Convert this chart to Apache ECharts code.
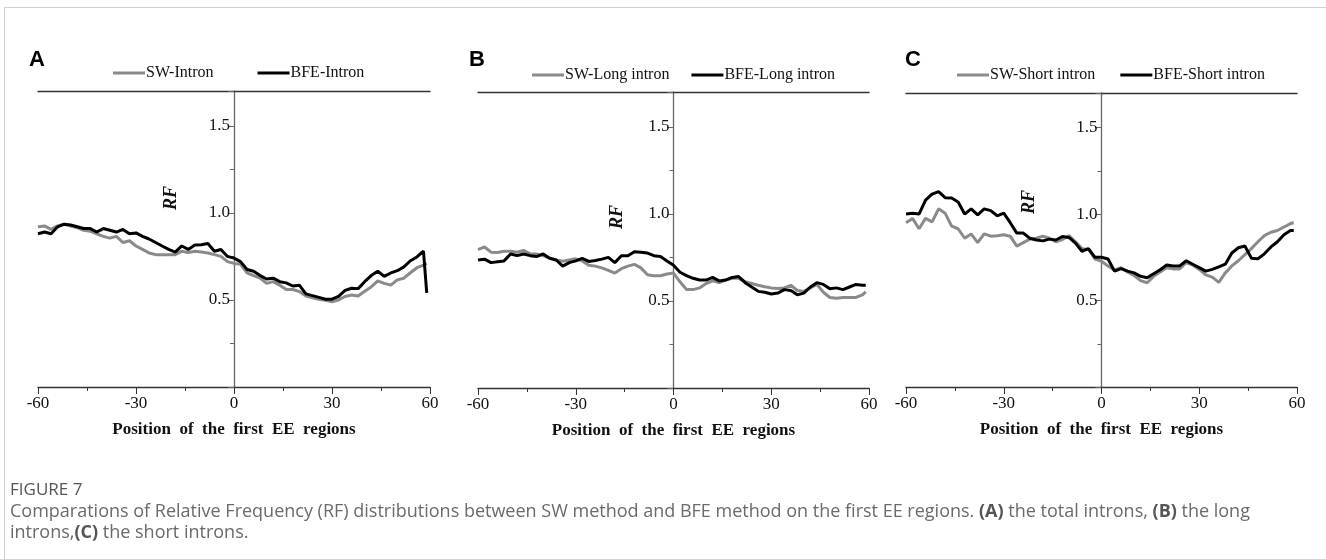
<!DOCTYPE html>
<html>
<head>
<meta charset="utf-8">
<script src="https://cdn.jsdelivr.net/npm/echarts@6/dist/echarts.min.js"></script>
<style>
  html, body { margin: 0; padding: 0; background: #fff; }
  #main { width: 1326px; height: 559px; }
</style>
</head>
<body>
<div id="main"></div>
<script>
// positions along the first EE region
var positions = [-60,-58,-56,-54,-52,-50,-48,-46,-44,-42,-40,-38,-36,-34,-32,-30,-28,-26,-24,-22,-20,-18,-16,-14,-12,-10,-8,-6,-4,-2,
  0,2,4,6,8,10,12,14,16,18,20,22,24,26,28,30,32,34,36,38,40,42,44,46,48,50,52,54,56,58,59];

// A: total introns
var swIntron = [0.92,0.925,0.905,0.925,0.935,0.925,0.915,0.90,0.895,0.88,0.865,0.855,0.865,0.83,0.84,0.81,0.79,0.77,0.76,0.76,0.76,0.76,0.78,0.773,0.78,0.775,0.77,0.76,0.75,0.72,
  0.71,0.705,0.656,0.64,0.625,0.595,0.605,0.585,0.56,0.56,0.548,0.523,0.513,0.504,0.498,0.49,0.50,0.52,0.528,0.523,0.55,0.575,0.609,0.595,0.585,0.615,0.625,0.656,0.685,0.70,0.71];
var bfeIntron = [0.88,0.89,0.88,0.92,0.935,0.93,0.92,0.91,0.91,0.89,0.91,0.90,0.89,0.905,0.88,0.885,0.865,0.85,0.83,0.81,0.79,0.775,0.81,0.79,0.815,0.817,0.824,0.78,0.79,0.75,
  0.74,0.72,0.675,0.665,0.64,0.62,0.625,0.605,0.598,0.58,0.585,0.535,0.525,0.515,0.504,0.504,0.52,0.555,0.567,0.565,0.605,0.64,0.665,0.635,0.655,0.668,0.69,0.725,0.747,0.78,0.54];

// B: long introns
var swLong = [0.795,0.81,0.78,0.778,0.785,0.785,0.78,0.79,0.77,0.77,0.76,0.745,0.735,0.728,0.735,0.742,0.73,0.705,0.70,0.69,0.675,0.66,0.685,0.70,0.71,0.69,0.65,0.645,0.645,0.655,
  0.66,0.61,0.565,0.565,0.575,0.60,0.615,0.605,0.62,0.63,0.63,0.61,0.60,0.59,0.582,0.575,0.572,0.575,0.59,0.56,0.555,0.575,0.595,0.55,0.52,0.515,0.52,0.52,0.52,0.535,0.553];
var bfeLong = [0.735,0.74,0.72,0.725,0.73,0.77,0.76,0.77,0.76,0.755,0.77,0.745,0.735,0.70,0.72,0.73,0.745,0.727,0.732,0.74,0.75,0.72,0.76,0.76,0.783,0.78,0.775,0.76,0.755,0.73,
  0.705,0.665,0.645,0.63,0.62,0.62,0.635,0.615,0.62,0.635,0.64,0.605,0.58,0.555,0.55,0.54,0.545,0.565,0.56,0.535,0.545,0.58,0.605,0.595,0.57,0.575,0.565,0.58,0.595,0.59,0.59];

// C: short introns
var swShort = [0.95,0.975,0.915,0.975,0.955,1.03,1.005,0.93,0.915,0.86,0.885,0.835,0.885,0.872,0.875,0.88,0.872,0.815,0.835,0.855,0.86,0.872,0.86,0.84,0.853,0.875,0.84,0.80,0.795,0.74,
  0.727,0.70,0.675,0.69,0.665,0.645,0.615,0.603,0.64,0.665,0.69,0.683,0.683,0.72,0.705,0.68,0.648,0.635,0.605,0.66,0.70,0.73,0.765,0.80,0.84,0.875,0.895,0.905,0.925,0.945,0.95];
var bfeShort = [1.0,1.005,1.0,1.08,1.115,1.13,1.095,1.093,1.07,1.0,1.03,0.995,1.03,1.02,0.99,1.005,0.95,0.89,0.89,0.86,0.85,0.845,0.855,0.85,0.87,0.865,0.832,0.785,0.80,0.75,
  0.75,0.74,0.67,0.685,0.67,0.66,0.64,0.632,0.655,0.678,0.705,0.70,0.70,0.73,0.71,0.69,0.67,0.68,0.695,0.71,0.775,0.805,0.815,0.745,0.742,0.77,0.81,0.84,0.88,0.905,0.905];

var panels = [
  { letter: 'A', sw: 'SW-Intron', bfe: 'BFE-Intron', swData: swIntron, bfeData: bfeIntron,
    grid: { left: 38, top: 91, width: 392, height: 296 }, legendLeft: 108, legendTop: 60, legendGap: 44, rf: [171, 198], letterX: 29 },
  { letter: 'B', sw: 'SW-Long intron', bfe: 'BFE-Long intron', swData: swLong, bfeData: bfeLong,
    grid: { left: 478, top: 92, width: 391, height: 296 }, legendLeft: 527, legendTop: 62, legendGap: 22, rf: [617, 217], letterX: 469 },
  { letter: 'C', sw: 'SW-Short intron', bfe: 'BFE-Short intron', swData: swShort, bfeData: bfeShort,
    grid: { left: 906, top: 93, width: 391, height: 294 }, legendLeft: 952, legendTop: 62, legendGap: 25, rf: [1029, 202], letterX: 905 }
];

var serif = "'Liberation Serif', 'Times New Roman', serif";
var axisColor = '#333';

function pairs(vals) {
  return positions.map(function (p, i) { return [p, vals[i]]; });
}

var option = {
  animation: false,
  backgroundColor: '#fff',
  grid: [], xAxis: [], yAxis: [], legend: [], series: [], graphic: []
};

panels.forEach(function (p, k) {
  option.grid.push(p.grid);
  option.xAxis.push({
    type: 'value', gridIndex: k, min: -60, max: 60, interval: 30,
    axisLine: { onZero: false, lineStyle: { color: axisColor, width: 1.3 } },
    axisTick: { length: 7, lineStyle: { color: axisColor } },
    minorTick: { show: true, splitNumber: 2, length: 4, lineStyle: { color: axisColor } },
    axisLabel: { color: '#111', fontFamily: serif, fontSize: 17, margin: 8 },
    splitLine: { show: false },
    name: 'Position  of  the  first  EE  regions',
    nameLocation: 'middle', nameGap: 34,
    nameTextStyle: { color: '#111', fontFamily: serif, fontSize: 17, fontWeight: 'bold' }
  });
  option.xAxis.push({
    type: 'value', gridIndex: k, position: 'top', min: -60, max: 60,
    axisLine: { onZero: false, lineStyle: { color: axisColor, width: 1.3 } },
    axisTick: { show: false }, axisLabel: { show: false }, splitLine: { show: false }
  });
  option.yAxis.push({
    type: 'value', gridIndex: k, min: 0, max: 1.7, interval: 0.5,
    position: 'left', offset: -p.grid.width / 2,
    axisLine: { onZero: false, lineStyle: { color: '#666', width: 1.3 } },
    axisTick: { length: 6, lineStyle: { color: '#666' } },
    minorTick: { show: true, splitNumber: 2, length: 4, lineStyle: { color: '#666' } },
    axisLabel: {
      color: '#111', fontFamily: serif, fontSize: 17, margin: 4,
      formatter: function (v) { return (v > 0 && Math.abs(v * 2 - Math.round(v * 2)) < 1e-6) ? v.toFixed(1) : ''; }
    },
    splitLine: { show: false }
  });
  option.legend.push({
    left: p.legendLeft, top: p.legendTop, itemGap: p.legendGap,
    itemWidth: 32, itemHeight: 3, icon: 'rect',
    data: [p.sw, p.bfe],
    textStyle: { color: '#111', fontFamily: serif, fontSize: 16, padding: [0, 0, 0, -4] }
  });
  option.series.push({
    name: p.sw, type: 'line', xAxisIndex: k * 2, yAxisIndex: k,
    data: pairs(p.swData), symbol: 'none',
    lineStyle: { color: '#8a8a8a', width: 3 }, itemStyle: { color: '#8a8a8a' }
  });
  option.series.push({
    name: p.bfe, type: 'line', xAxisIndex: k * 2, yAxisIndex: k,
    data: pairs(p.bfeData), symbol: 'none',
    lineStyle: { color: '#000', width: 3 }, itemStyle: { color: '#000' }
  });
  option.graphic.push({
    type: 'text', x: p.rf[0], y: p.rf[1], rotation: Math.PI / 2,
    style: { text: 'RF', fill: '#111', font: "italic bold 18px 'Liberation Serif', serif", align: 'center', verticalAlign: 'middle' }
  });
  option.graphic.push({
    type: 'text', x: p.letterX, y: 60,
    style: { text: p.letter, fill: '#000', font: "bold 22px 'Liberation Sans', Arial, sans-serif", align: 'left', verticalAlign: 'middle' }
  });
});

// frame and caption
option.graphic.push(
  { type: 'line', shape: { x1: 4.5, y1: 7.5, x2: 1326, y2: 7.5 }, style: { stroke: '#d0d0d0', lineWidth: 1 } },
  { type: 'line', shape: { x1: 4.5, y1: 7.5, x2: 4.5, y2: 559 }, style: { stroke: '#d0d0d0', lineWidth: 1 } },
  {
    type: 'text', x: 10, y: 490,
    style: { text: 'FIGURE 7', fill: '#555', font: "17px 'Open Sans', sans-serif", verticalAlign: 'middle' }
  },
  {
    type: 'text', x: 10, y: 501,
    style: {
      text: 'Comparations of Relative Frequency (RF) distributions between SW method and BFE method on the first EE regions. {b|(A)} the total introns, {b|(B)} the long\nintrons,{b|(C)} the short introns.',
      fill: '#6a6a6a', font: "18px 'Open Sans', sans-serif", lineHeight: 21,
      rich: { b: { fontWeight: 'bold', fill: '#555', fontFamily: 'Open Sans', fontSize: 18, lineHeight: 21 } }
    }
  }
);

var myChart = echarts.init(document.getElementById('main'));
myChart.setOption(option);
window.addEventListener('resize', function () {
  myChart.resize();
});
</script>
</body>
</html>
